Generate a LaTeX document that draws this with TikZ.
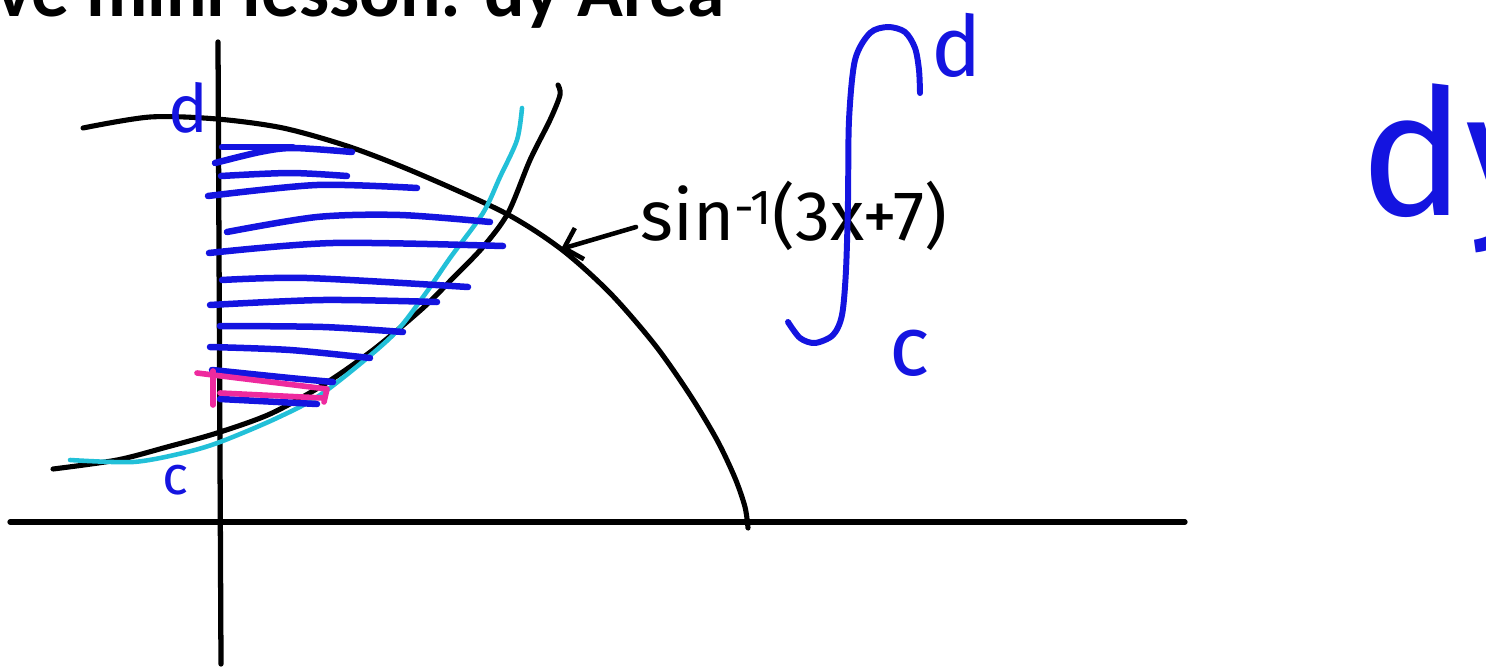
\documentclass[tikz,border=0pt]{standalone}
\usepackage{fontspec}
\setmainfont{Carlito}
\newfontfamily\handfont{Fira Sans}
\usetikzlibrary{arrows.meta, positioning}
\definecolor{penBlue}{HTML}{1414E0}
\definecolor{penCyan}{HTML}{22C0D8}
\definecolor{penPink}{HTML}{EE2A9E}
\tikzset{
  axisln/.style={line width=3pt, line cap=round},
  curveln/.style={line width=2.9pt, line cap=round, line join=round},
  cyanln/.style={line width=2.6pt, penCyan, line cap=round, line join=round},
  hatch/.style={line width=3.7pt, penBlue, line cap=round, line join=round},
  slab/.style={line width=3.2pt, penPink, line cap=round, line join=round},
  hand/.style={inner sep=0pt, font=\handfont\fontsize{#1}{#1}\selectfont},
}

\begin{document}
\begin{tikzpicture}[x=0.02cm, y=-0.02cm,
    pointer/.style={-{Straight Barb[length=3.2mm, width=6.5mm]}, line width=2.6pt, line cap=round},
    integ/.style={line width=3.4pt, penBlue, line cap=round, line join=round}
]
  \clip (0,0) rectangle (1486,669);

  % header, cut off by the top edge
  \node[anchor=base west, inner sep=0pt, font=\bfseries\fontsize{43}{48}\selectfont] (title) at (-4,17) {ve mini lesson: dy Area};

  % axes
  \coordinate (xl) at (10,522);
  \coordinate (xr) at (1185,522);
  \coordinate (yt) at (218,42);
  \coordinate (yb) at (221,664);
  \draw[axisln] (xl) -- (xr);
  \draw[axisln] (yt) -- (yb);

  % the two curves
  \draw[curveln] plot[smooth] coordinates {(83,128) (150,117) (217,119) (283,128) (350,147) (417,173) (505,213) (561,249) (610,293) (655,345) (690,395) (717,440) (735,478) (745,507) (748,528)};
  \draw[curveln] plot[smooth] coordinates {(53,469) (117,460) (167,447) (217,433) (270,414) (323,385) (373,350) (423,308) (453,278) (483,247) (508,213) (530,160) (550,120) (560,95) (558,85)};
  \draw[cyanln] plot[smooth] coordinates {(70,460) (133,462) (183,453) (220,442) (277,418) (323,393) (390,338) (423,297) (450,258) (483,213) (500,177) (517,140) (522,108)};

  % horizontal strips
  \draw[hatch] (222,147) -- (293,147);
  \draw[hatch] plot[smooth] coordinates {(215,163) (260,152) (293,148) (352,152)};
  \draw[hatch] plot[smooth] coordinates {(221,176) (290,173) (347,176)};
  \draw[hatch] plot[smooth] coordinates {(208,196) (317,185) (417,188)};
  \draw[hatch] plot[smooth] coordinates {(227,232) (317,217) (400,215) (490,222)};
  \draw[hatch] plot[smooth] coordinates {(209,253) (333,243) (503,246)};
  \draw[hatch] plot[smooth] coordinates {(222,280) (307,278) (468,287)};
  \draw[hatch] plot[smooth] coordinates {(210,305) (323,300) (437,302)};
  \draw[hatch] plot[smooth] coordinates {(220,326) (323,327) (403,332)};
  \draw[hatch] plot[smooth] coordinates {(210,347) (290,350) (370,358)};
  \draw[hatch] plot[smooth] coordinates {(212,370) (290,378) (333,382)};
  \draw[hatch] (220,399) -- (317,404);

  % one strip dy
  \draw[slab] (197,373) -- (327,389) -- (324,402);
  \draw[slab] (213,371) -- (213,405);
  \draw[slab] (220,393) -- (323,398);

  % limits on the y axis
  \node[hand=38, penBlue] (dtop) at (188,108) {d};
  \node[hand=31, penBlue] (cbot) at (176,480) {c};

  % label of the curve
  \coordinate (tip) at (561,249);
  \node[hand=40, anchor=base west] (inv) at (640,240) {sin\textsuperscript{-1}(3x+7)};
  \draw[pointer] ([shift={(-4,-13)}]inv.base west) -- (tip);

  % the integral
  \draw[integ] plot[smooth] coordinates {(788,322) (800,338) (815,343) (833,335) (842,315) (846,270) (848,200) (849,120) (855,60) (870,33) (888,27) (905,32) (915,48) (919,70) (920,93)};
  \node[hand=48, penBlue] (ihi) at (957,45) {d};
  \node[hand=48, penBlue] (ilo) at (910,353) {c};
  \node[hand=100, penBlue, anchor=base west] (dy) at (1360,215) {dy};
\end{tikzpicture}
\end{document}
